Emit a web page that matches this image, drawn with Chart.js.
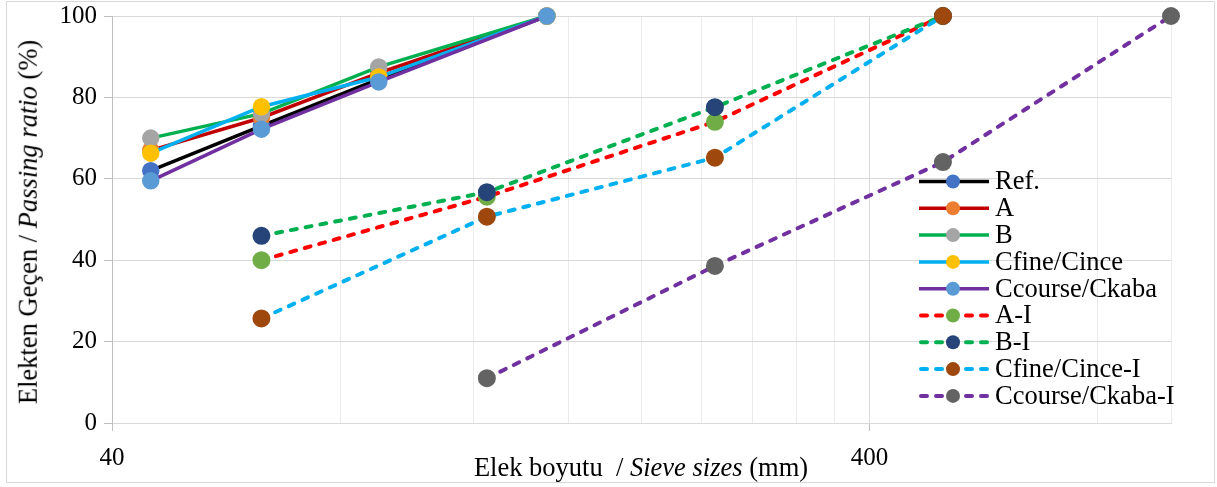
<!DOCTYPE html>
<html>
<head>
<meta charset="utf-8">
<script src="https://cdn.jsdelivr.net/npm/chart.js@4"></script>
<style>
  html, body { margin: 0; padding: 0; background: #fff; }
  #wrap { position: relative; width: 1217px; height: 487px; font-family: "Liberation Serif", "Times New Roman", serif; color: #000; }
  #frame { position: absolute; left: 6px; top: 1px; width: 1209px; height: 482px; border: 1px solid #D9D9D9; box-sizing: border-box; pointer-events: none; }
  canvas { position: absolute; left: 0; top: 0; }
  .ttl { position: absolute; font-size: 26.5px; white-space: nowrap; line-height: 1; }
  #xTitle { left: 641px; top: 467px; transform: translate(-50%, -50%); }
  #yTitle { left: 28px; top: 222px; transform: translate(-50%, -50%) rotate(-90deg); }
</style>
</head>
<body>
<div id="wrap">
  <div id="frame"></div>
  <canvas id="gradingChart" width="1217" height="487"></canvas>
  <div class="ttl" id="xTitle">Elek boyutu&nbsp; / <i>Sieve sizes</i> (mm)</div>
  <div class="ttl" id="yTitle">Elekten Geçen / <i>Passing ratio</i> (%)</div>
</div>
<script>
// ── Veriler ────────────────────────────────────────────
const sizesMain = [45, 63, 90, 150];
const sizesI    = [63, 125, 250, 500];
const sizesCcI  = [125, 250, 500, 1000];

const refVals     = [62, 73, 84.5, 100];
const aVals       = [67, 75, 86, 100];
const bVals       = [70, 76, 87.5, 100];
const cfineVals   = [66.3, 77.7, 85, 100];
const ccourseVals = [59.5, 72.2, 83.8, 100];
const aIVals      = [40, 55.6, 74, 100];
const bIVals      = [46, 56.7, 77.6, 100];
const cfineIVals  = [25.7, 50.7, 65.2, 100];
const ccourseIVals= [11, 38.6, 64.1, 100];

const xGridVals = [40, 80, 120, 160, 200, 240, 280, 320, 360, 400, 800, 1000];
const xLabelVals = [40, 400];

const FONT = '"Liberation Serif", "Times New Roman", serif';
const DASH = [6, 9];

function pts(xs, ys) {
  return xs.map((x, i) => ({ x: x, y: ys[i] }));
}

const seriesDefs = [
  { label: 'Ref.',            xs: sizesMain, ys: refVals,      line: '#000000', dot: '#4472C4', dashed: false },
  { label: 'A',               xs: sizesMain, ys: aVals,        line: '#C00000', dot: '#ED7D31', dashed: false },
  { label: 'B',               xs: sizesMain, ys: bVals,        line: '#00B050', dot: '#A5A5A5', dashed: false },
  { label: 'Cfine/Cince',     xs: sizesMain, ys: cfineVals,    line: '#00B0F0', dot: '#FFC000', dashed: false },
  { label: 'Ccourse/Ckaba',   xs: sizesMain, ys: ccourseVals,  line: '#7030A0', dot: '#5B9BD5', dashed: false },
  { label: 'A-I',             xs: sizesI,    ys: aIVals,       line: '#FF0000', dot: '#70AD47', dashed: true },
  { label: 'B-I',             xs: sizesI,    ys: bIVals,       line: '#00B050', dot: '#264478', dashed: true },
  { label: 'Cfine/Cince-I',   xs: sizesI,    ys: cfineIVals,   line: '#00B0F0', dot: '#9E480E', dashed: true },
  { label: 'Ccourse/Ckaba-I', xs: sizesCcI,  ys: ccourseIVals, line: '#7030A0', dot: '#636363', dashed: true },
];

const datasets = seriesDefs.map((s, i) => ({
  label: s.label,
  data: pts(s.xs, s.ys),
  borderColor: s.line,
  backgroundColor: s.dot,
  pointBackgroundColor: s.dot,
  pointBorderColor: s.dot,
  pointRadius: 7,
  pointHoverRadius: 7,
  borderWidth: s.dashed ? 4 : 3.5,
  borderDash: s.dashed ? DASH : [],
  borderCapStyle: s.dashed ? 'round' : 'butt',
  tension: 0,
  clip: 10,
  order: seriesDefs.length - i,   // Excel gibi: sonraki seri üstte
}));

// ── Lejant (çizim alanının içinde) ───────────────────────
const insideLegend = {
  id: 'insideLegend',
  afterDraw(chart) {
    const ctx = chart.ctx;
    const area = chart.chartArea;
    const x0 = area.right - 252;
    ctx.save();
    ctx.font = `26.5px ${FONT}`;
    ctx.textBaseline = 'middle';
    seriesDefs.forEach((s, i) => {
      const y = area.top + 165.5 + i * 26.8;
      ctx.beginPath();
      ctx.setLineDash(s.dashed ? DASH : []);
      ctx.lineCap = s.dashed ? 'round' : 'butt';
      ctx.strokeStyle = s.line;
      ctx.lineWidth = s.dashed ? 4 : 3.5;
      ctx.moveTo(s.dashed ? x0 + 2 : x0, y);
      ctx.lineTo(x0 + 70, y);
      ctx.stroke();
      ctx.setLineDash([]);
      ctx.beginPath();
      ctx.fillStyle = s.dot;
      ctx.arc(x0 + 34, y, 7, 0, Math.PI * 2);
      ctx.fill();
      ctx.fillStyle = '#000';
      ctx.fillText(s.label, x0 + 76, y + 1);
    });
    ctx.restore();
  },
};

function drawChart() {
  new Chart(document.getElementById('gradingChart'), {
    type: 'line',
    data: { datasets },
    options: {
      responsive: false,
      animation: false,
      devicePixelRatio: 1,
      layout: { padding: { left: 0, top: 16, right: 46, bottom: 0 } },
      plugins: {
        legend: { display: false },
        tooltip: { enabled: false },
      },
      scales: {
        x: {
          type: 'logarithmic',
          min: 40,
          max: 1000,
          afterBuildTicks: (scale) => {
            scale.ticks = xGridVals.map((v) => ({ value: v }));
          },
          afterFit: (scale) => {
            scale.height = 64;
            scale.paddingLeft = 0;
            scale.paddingRight = 0;
          },
          ticks: {
            autoSkip: false,
            maxRotation: 0,
            padding: 12,
            color: '#000',
            font: { family: FONT, size: 25 },
            callback: (value) => (xLabelVals.includes(value) ? String(value) : ''),
          },
          grid: {
            color: (c) => (c.tick && xLabelVals.includes(c.tick.value) ? '#D9D9D9' : '#EBEBEB'),
            tickColor: (c) => (c.tick && xLabelVals.includes(c.tick.value) ? '#BFBFBF' : 'rgba(0,0,0,0)'),
            tickLength: 8,
            lineWidth: 1,
          },
          border: { display: true, color: '#D9D9D9', width: 1 },
        },
        y: {
          min: 0,
          max: 100,
          afterFit: (scale) => {
            scale.width = 112;
            scale.paddingTop = 0;
            scale.paddingBottom = 0;
          },
          ticks: {
            stepSize: 20,
            padding: 7,
            color: '#000',
            font: { family: FONT, size: 25 },
          },
          grid: {
            color: '#D9D9D9',
            tickColor: '#BFBFBF',
            tickLength: 8,
            lineWidth: 1,
          },
          border: { display: true, color: '#BFBFBF', width: 1 },
        },
      },
    },
    plugins: [insideLegend],
  });
}

Promise.all([
  document.fonts.load('25px "Liberation Serif"'),
  document.fonts.load('italic 25px "Liberation Serif"'),
]).then(drawChart, drawChart);
</script>
</body>
</html>
